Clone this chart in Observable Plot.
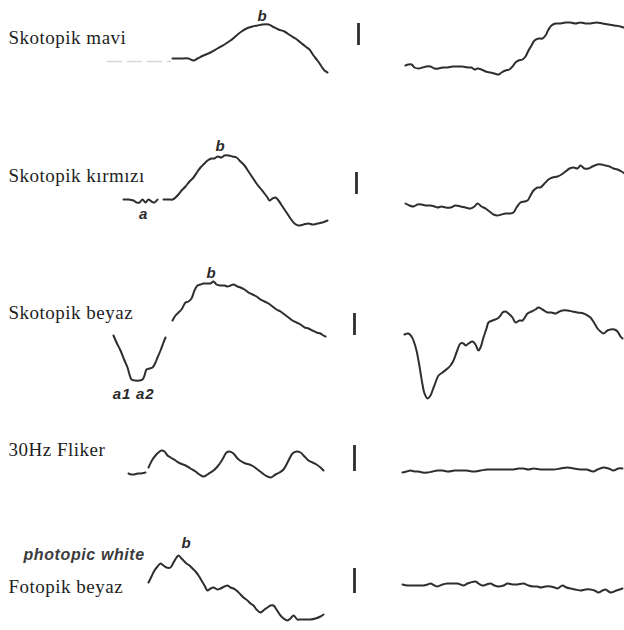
<!DOCTYPE html>
<html><head><meta charset="utf-8">
<script src="https://cdn.jsdelivr.net/npm/d3@7"></script>
<script src="https://cdn.jsdelivr.net/npm/@observablehq/plot@0.6"></script>
<style>body{margin:0;background:#fff}</style>
</head><body><div id="chart"></div>
<script>
// Row labels (Turkish) and annotations
const rowLabels = ["Skotopik mavi", "Skotopik kırmızı", "Skotopik beyaz", "30Hz Fliker", "Fotopik beyaz"];
const waveLabels = ["b", "a", "b", "a1 a2", "b", "b"];
const englishLabel = ["photopic white"];

// Traces: [time position, amplitude position]; null = gap
const maviPre = [[107,61],[170,61]];
const maviNormal = [[172,58],[180,58],[188,58],[193,60],[197,58],[203,55],[210,52],[217,48],[224,44],[230,40],[236,35],[241,31],[246,28],[252,26],[257,25],[262,24],[268,24],[272,26],[278,29],[284,31],[290,35],[295,38],[300,42],[305,46],[309,49],[313,55],[317,60],[321,66],[324,70],[327,72]];
const maviHasta = [[405,65],[408,64],[411,64],[414,67],[418,68],[422,67],[426,66],[430,66],[434,68],[438,68],[442,67],[447,67],[452,66],[457,66],[462,66],[467,67],[471,67],[474,69],[477,68],[481,69],[485,71],[490,72],[494,73],[498,74],[501,72],[505,70],[509,69],[512,66],[515,62],[518,60],[522,59],[525,56],[528,50],[531,45],[534,40],[538,38],[542,38],[545,35],[548,29],[551,25],[555,23],[560,23],[565,22],[570,22],[575,23],[580,22],[585,23],[590,23],[596,22],[602,23],[608,24],[614,25],[620,26],[623,27]];
const kirmiziNormal = [[123,199],[128,199],[133,200],[136,202],[139,202],[142,199],[145,202],[148,199],[151,201],[154,202],[157,199],null,[163,199],[168,199],[172,199],[175,197],[178,194],[181,190],[185,186],[189,181],[193,177],[197,171],[200,167],[204,163],[207,160],[211,158],[214,158],[217,156],[221,157],[224,155],[228,155],[232,156],[236,157],[240,161],[244,165],[248,171],[252,177],[256,183],[260,188],[264,193],[267,197],[269,200],[272,198],[275,197],[278,200],[282,206],[286,212],[290,218],[294,223],[298,225],[303,224],[308,223],[312,224],[317,223],[322,222],[327,220]];
const kirmiziHasta = [[405,203],[409,205],[413,206],[417,204],[421,204],[425,205],[430,205],[434,206],[437,207],[441,206],[445,207],[450,207],[455,205],[460,206],[465,207],[470,208],[474,206],[477,203],[481,206],[485,208],[489,211],[493,214],[497,215],[501,214],[505,213],[509,213],[513,212],[516,207],[520,202],[524,201],[527,200],[530,195],[533,190],[537,187],[540,187],[544,183],[548,179],[552,177],[557,176],[561,174],[565,171],[569,168],[573,167],[577,168],[580,165],[584,168],[588,168],[592,166],[597,164],[601,164],[605,165],[609,166],[613,168],[617,169],[621,171],[624,173]];
const beyazNormal = [[113,335],[116,342],[120,350],[124,360],[127,367],[129,374],[131,379],[135,380],[139,380],[142,379],[144,375],[146,369],[149,368],[152,367],[155,362],[157,357],[160,350],[163,342],[165,337],null,[172,320],[175,315],[178,312],[181,309],[185,302],[188,301],[191,298],[194,290],[197,285],[200,284],[203,283],[207,283],[210,283],[213,281],[216,284],[220,285],[224,285],[227,286],[230,285],[233,284],[237,286],[240,287],[244,289],[248,292],[252,294],[256,296],[260,299],[264,301],[268,303],[272,306],[276,309],[280,311],[284,314],[288,317],[292,320],[296,322],[300,324],[304,327],[308,328],[312,330],[316,332],[320,333],[323,335],[325,336]];
const beyazHasta = [[404,334],[408,333],[411,336],[413,340],[416,350],[418,360],[420,372],[422,384],[424,393],[427,398],[430,395],[432,390],[435,382],[438,375],[442,372],[447,368],[450,365],[453,360],[456,352],[460,343],[463,343],[465,345],[468,343],[472,341],[475,344],[478,350],[480,347],[483,337],[486,328],[488,322],[492,320],[497,318],[500,315],[502,312],[505,311],[508,313],[512,317],[515,322],[519,320],[522,320],[525,316],[527,313],[531,311],[535,309],[538,307],[542,309],[547,312],[551,312],[555,313],[559,311],[562,310],[567,310],[572,311],[577,312],[583,313],[587,315],[590,317],[594,323],[597,328],[600,331],[603,333],[607,330],[610,329],[614,329],[617,331],[620,336],[622,338]];
const flikerNormal = [[128,473],[131,474],[134,474],[137,473],[140,473],[145,472],null,[148,467],[152,459],[155,455],[158,452],[161,450],[164,451],[167,455],[170,457],[175,460],[180,463],[185,465],[190,468],[195,471],[199,474],[203,476],[207,474],[210,472],[213,470],[217,466],[220,462],[223,457],[226,452],[229,451],[233,453],[237,458],[241,461],[245,463],[249,464],[253,466],[257,469],[261,472],[265,475],[270,477],[275,474],[279,472],[283,469],[286,464],[289,458],[292,453],[296,451],[300,452],[304,456],[308,460],[312,462],[316,464],[320,467],[323,470]];
const flikerHasta = [[402,472],[406,471],[410,470],[414,471],[418,471],[422,472],[427,472],[432,471],[437,470],[442,470],[448,471],[454,470],[460,470],[466,470],[473,471],[480,470],[487,469],[493,469],[500,469],[507,469],[513,469],[518,468],[523,468],[528,469],[533,468],[540,469],[546,469],[553,469],[560,468],[567,467],[573,468],[580,469],[586,469],[593,471],[597,469],[603,467],[608,468],[613,470],[618,468],[622,468]];
const fotopikNormal = [[148,582],[151,576],[154,570],[157,566],[160,563],[163,565],[166,567],[170,567],[173,562],[176,557],[178,555],[181,558],[183,560],[186,563],[189,565],[192,568],[195,571],[198,575],[201,580],[204,585],[207,590],[210,588],[213,587],[217,589],[220,588],[224,586],[227,585],[230,587],[233,588],[236,590],[240,594],[243,597],[247,600],[250,603],[253,605],[256,609],[260,612],[264,609],[267,607],[270,605],[273,605],[276,609],[280,615],[283,618],[287,620],[290,618],[293,615],[297,619],[300,619],[305,619],[310,619],[315,618],[320,616],[323,614]];
const fotopikHasta = [[402,584],[407,585],[413,585],[418,585],[423,585],[427,584],[430,583],[434,585],[437,586],[442,584],[447,583],[452,583],[457,583],[460,584],[463,585],[467,583],[470,582],[475,581],[478,583],[482,585],[486,584],[490,583],[494,585],[498,586],[503,585],[507,583],[512,584],[517,584],[523,583],[528,585],[533,586],[537,586],[540,587],[545,586],[550,586],[554,587],[557,588],[562,585],[566,587],[570,588],[575,589],[580,590],[585,589],[590,589],[594,590],[598,592],[602,590],[605,589],[610,592],[616,590],[622,588]];

// Layout (positions of labels and calibration bars)
const labelX = [8, 8, 8, 8, 8];
const labelY = [43, 181, 318, 455, 592];
const waveX = [262, 143, 220, 133, 211, 186];
const waveY = [20, 218, 150, 398, 277, 547];
const engX = [23], engY = [559];
const barX = [358, 356, 354, 354, 354];
const barTop = [23, 172, 313, 445, 568];
const barBottom = [45, 194, 335, 471, 593];

const traces = {maviNormal, maviHasta, kirmiziNormal, kirmiziHasta, beyazNormal, beyazHasta, flikerNormal, flikerHasta, fotopikNormal, fotopikHasta};
const lineData = Object.entries(traces).flatMap(([id, pts]) =>
  pts.map(p => p ? {id, x: p[0], y: p[1]} : {id, x: null, y: null}));
const preData = maviPre.map(p => ({x: p[0], y: p[1]}));
const labelData = rowLabels.map((t, i) => ({t, x: labelX[i], y: labelY[i]}));
const waveData = waveLabels.map((t, i) => ({t, x: waveX[i], y: waveY[i]}));
const engData = englishLabel.map((t, i) => ({t, x: engX[i], y: engY[i]}));
const barData = barX.map((x, i) => ({x, y1: barTop[i], y2: barBottom[i]}));

const chart = Plot.plot({
  width: 624, height: 630, margin: 0,
  x: {domain: [0, 624], range: [0, 624], axis: null},
  y: {domain: [0, 630], range: [0, 630], axis: null},
  marks: [
    Plot.line(preData, {x: "x", y: "y", stroke: "#d8d8d8", strokeWidth: 1.5, strokeDasharray: "14,6"}),
    Plot.line(lineData, {x: "x", y: "y", z: "id", stroke: "#2e2e2e", strokeWidth: 2, curve: "catmull-rom", strokeLinejoin: "round"}),
    Plot.ruleX(barData, {x: "x", y1: "y1", y2: "y2", stroke: "#2e2e2e", strokeWidth: 2.8}),
    Plot.text(labelData, {x: "x", y: "y", text: "t", textAnchor: "start", lineAnchor: "bottom", fontFamily: "Liberation Serif", fontSize: 19, fill: "#1e1e1e"}),
    Plot.text(waveData, {x: "x", y: "y", text: "t", textAnchor: "middle", lineAnchor: "bottom", fontFamily: "Liberation Sans", fontWeight: "bold", fontStyle: "italic", fontSize: 15, fill: "#2a2a2a"}),
    Plot.text(engData, {x: "x", y: "y", text: "t", textAnchor: "start", lineAnchor: "bottom", fontFamily: "Liberation Sans", fontWeight: "bold", fontStyle: "italic", fontSize: 16, fill: "#3c3c3c"})
  ]
});
const s = d3.select(chart);
s.selectAll('g[font-family="Liberation Serif"]').attr("letter-spacing", "0.5px");
s.selectAll('g[font-size="16"]').attr("letter-spacing", "0.6px");
s.selectAll('g[font-size="15"]').attr("letter-spacing", "0.8px");
document.getElementById("chart").append(chart);
</script>
</body></html>
